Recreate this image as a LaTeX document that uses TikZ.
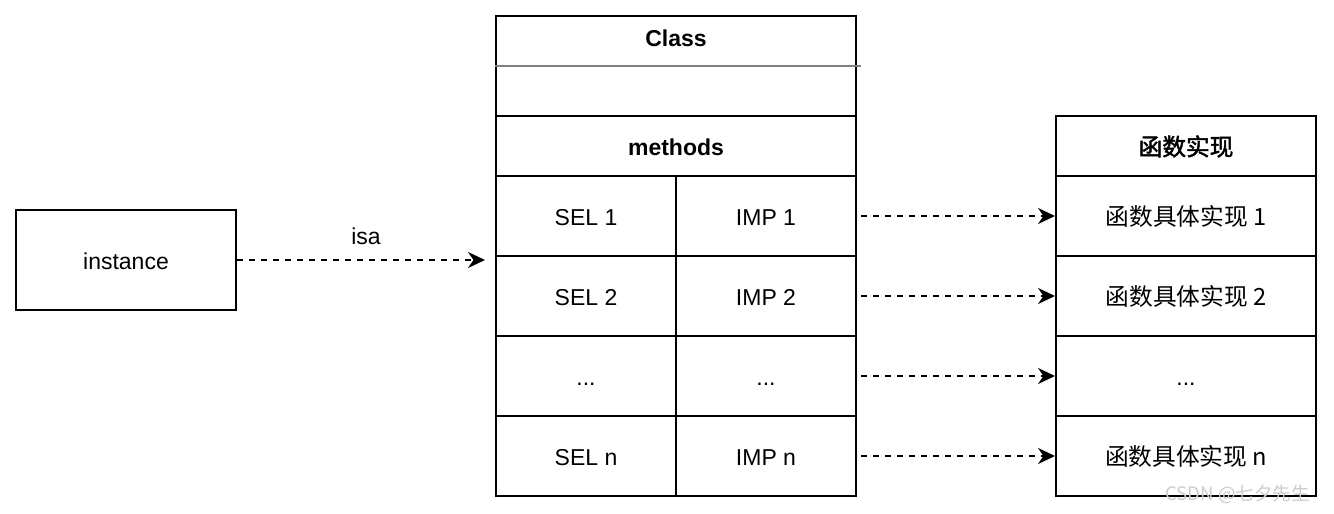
\documentclass[tikz,border=0pt]{standalone}
\usepackage{fontspec}
\setmainfont{Liberation Sans}
\newfontfamily\cjk{Noto Sans CJK SC}[Scale=1.03]
\newfontfamily\cjkbold{Noto Sans CJK SC}[Scale=1.03, FakeBold=2]
\usepackage{tikz}
\usetikzlibrary{arrows.meta}

\tikzset{
    cell/.style={draw, line width=1pt, inner sep=0pt, minimum width=90pt, minimum height=40pt,
        font=\fontsize{11.5}{14}\selectfont, text height=9.5pt, text depth=0pt},
    widecell/.style={cell, minimum width=130pt},
    head/.style={cell, font=\fontsize{11.5}{14}\selectfont\bfseries},
    link/.style={dashed, dash pattern=on 3pt off 3pt, line width=0.75pt,
        -{Stealth[length=8.5pt, width=8pt]}},
}

\begin{document}
\begin{tikzpicture}[x=0.5pt, y=-0.5pt]
    \useasboundingbox (0,0) rectangle (1334,514);

    % instance
    \node[cell, minimum width=110pt, minimum height=50pt] (instance) at (126,260) {instance};

    % class box
    \node[cell, minimum width=180pt, minimum height=50pt] (class) at (676,66) {};
    \node[font=\fontsize{11.5}{14}\selectfont\bfseries] (classname) at (676,38) {Class};
    \draw[gray, line width=1pt] (class.west) -- ([xshift=2pt]class.east);
    \node[head, minimum width=180pt, minimum height=30pt] (methods) at (676,146) {methods};

    \node[cell] (sel1) at (586,216) {SEL 1};
    \node[cell] (imp1) at (766,216) {IMP 1};
    \node[cell] (sel2) at (586,296) {SEL 2};
    \node[cell] (imp2) at (766,296) {IMP 2};
    \node[cell] (sel3) at (586,376) {...};
    \node[cell] (imp3) at (766,376) {...};
    \node[cell] (sel4) at (586,456) {SEL n};
    \node[cell] (imp4) at (766,456) {IMP n};

    % implementations
    \node[head, widecell, minimum height=30pt] (funcs) at (1186,146) {\cjkbold 函数实现};
    \node[widecell] (fn1) at (1186,216) {\cjk 函数具体实现 1};
    \node[widecell] (fn2) at (1186,296) {\cjk 函数具体实现 2};
    \node[widecell] (fn3) at (1186,376) {...};
    \node[widecell] (fn4) at (1186,456) {\cjk 函数具体实现 n};

    % connectors
    \draw[link, shorten >=5pt] (instance.east) -- node[above=4pt, font=\fontsize{11.5}{14}\selectfont] (isa) {isa} (instance.east -| class.west);
    \foreach \i in {1,2,3,4}
        \draw[link, shorten <=2pt] (imp\i.east) -- (fn\i.west);

    % watermark
    \node[anchor=east, text=gray!40, font=\cjk\fontsize{9}{11}\selectfont] (mark) at (1317,494) {CSDN @七夕先生};
\end{tikzpicture}
\end{document}
